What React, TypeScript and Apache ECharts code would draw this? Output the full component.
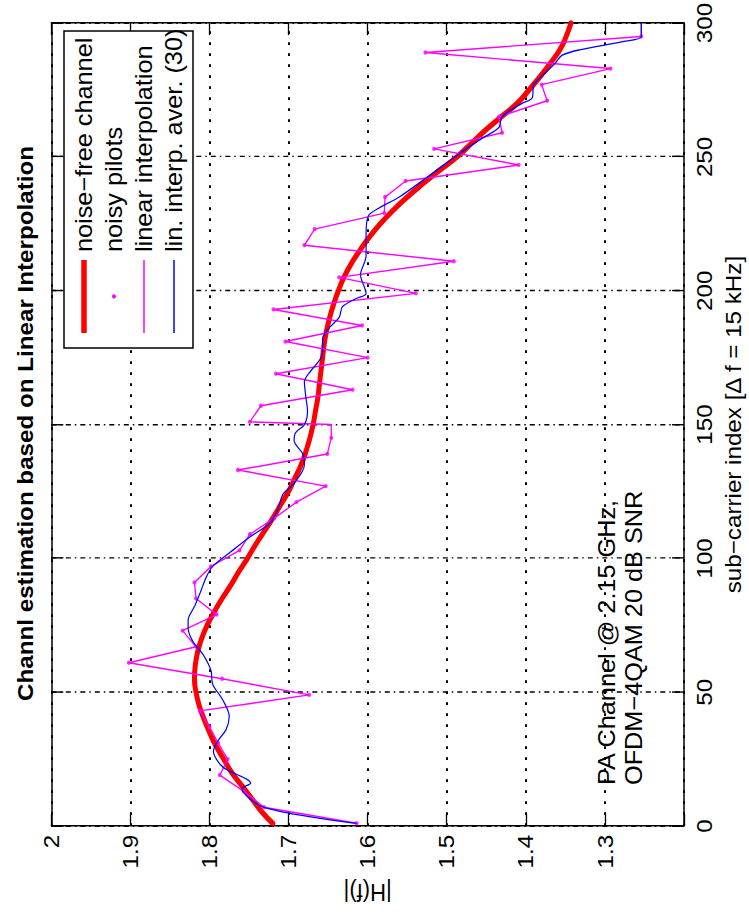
import React, { useEffect, useRef } from "react";
import * as echarts from "echarts";

// ---------------- data ----------------
const xTicks = [0, 50, 100, 150, 200, 250, 300];
const yTicks = [1.3, 1.4, 1.5, 1.6, 1.7, 1.8, 1.9, 2];

// noise-free channel
const cleanIdx = [1, 5, 10, 15, 20, 25, 30, 35, 40, 45, 50, 55, 60, 65, 70, 75, 80, 85, 90, 95, 100, 105, 110, 115, 120, 125, 130, 135, 140, 145, 150,
  155, 160, 165, 170, 175, 180, 185, 190, 195, 200, 205, 210, 215, 220, 225, 230, 235, 240, 245, 250, 255, 260, 265, 270, 275, 280, 285, 290, 295, 300];
const cleanH = [1.72, 1.733, 1.746, 1.759, 1.772, 1.782, 1.792, 1.8, 1.807, 1.813, 1.817, 1.819, 1.818, 1.815, 1.81, 1.803, 1.794, 1.784, 1.773, 1.763, 1.752,
  1.742, 1.731, 1.72, 1.71, 1.7, 1.692, 1.684, 1.678, 1.673, 1.669, 1.666, 1.663, 1.661, 1.659, 1.657, 1.655, 1.652, 1.648, 1.643, 1.637,
  1.63, 1.621, 1.61, 1.598, 1.584, 1.568, 1.55, 1.53, 1.509, 1.487, 1.469, 1.451, 1.431, 1.411, 1.396, 1.382, 1.369, 1.357, 1.349, 1.343];

// noisy pilots
const pilotIdx = [1, 7, 13, 19, 25, 31, 37, 43, 49, 55, 61, 67, 73, 79, 85, 91, 97, 103, 109, 115, 121, 127, 133, 139, 145,
  151, 157, 163, 169, 175, 181, 187, 193, 199, 205, 211, 217, 223, 229, 235, 241, 247, 253, 259, 265, 271, 277, 283, 289, 295];
const pilotH = [1.614, 1.731, 1.757, 1.787, 1.777, 1.789, 1.8, 1.812, 1.674, 1.784, 1.902, 1.817, 1.834, 1.791, 1.817, 1.819, 1.798, 1.762, 1.749, 1.718, 1.69, 1.653, 1.764, 1.651, 1.646,
  1.749, 1.735, 1.619, 1.716, 1.6, 1.704, 1.607, 1.719, 1.539, 1.636, 1.491, 1.68, 1.667, 1.579, 1.578, 1.552, 1.409, 1.516, 1.43, 1.434, 1.373, 1.38, 1.293, 1.527, 1.254];

// hold points at the block ends of the linear interpolation
const holdIdx = [150, 300];
const holdH = [1.646, 1.254];

// lin. interp. aver. (30)
const avgIdx = [1, 7, 14, 16, 22, 28, 32, 36, 41, 47, 53, 58, 64, 69, 74, 77, 82, 87, 93, 97, 102, 108, 113, 118, 124, 128, 135, 139, 144, 147,
  150, 155, 160, 166, 170, 174, 177, 182, 186, 190, 194, 197, 199, 206, 213, 221, 228, 231, 235, 243, 251, 257, 261, 265, 270, 272, 277, 280, 285, 288, 290, 293, 295, 300];
const avgH = [1.614, 1.731, 1.759, 1.748, 1.783, 1.795, 1.789, 1.779, 1.775, 1.783, 1.796, 1.798, 1.808, 1.821, 1.827, 1.827, 1.819, 1.812, 1.804, 1.796,
  1.775, 1.749, 1.724, 1.714, 1.707, 1.693, 1.68, 1.682, 1.693, 1.691, 1.68, 1.676, 1.678, 1.68, 1.672, 1.661, 1.657, 1.657, 1.649, 1.636,
  1.632, 1.615, 1.602, 1.609, 1.602, 1.602, 1.599, 1.585, 1.56, 1.522, 1.485, 1.455, 1.434, 1.43, 1.405, 1.392, 1.39, 1.38, 1.363, 1.354, 1.332, 1.279, 1.254, 1.254];

const seriesNames = ["noise\u2212free channel", "noisy pilots", "linear interpolation", "lin. interp. aver. (30)"];
const titleText = "Channl estimation based on Linear Interpolation";
const xName = "sub\u2212carrier index [\u0394 f = 15 kHz]";
const yName = "|H(f)|";
const noteLines = ["PA Channel @ 2.15 GHz,", "OFDM\u22124QAM 20 dB SNR"];

// ---------------- layout ----------------
const S = 1.1; // stretch along reading direction
const SCREEN_W = 749;
const SCREEN_H = 917;
const CW = SCREEN_H / S;
const CH = SCREEN_W;
const GL = 91 / S;
const GR = CW - 896 / S;
const GT = 51.3;
const GB = CH - 688;
const FONT = "'Liberation Sans', Arial, Helvetica, sans-serif";

function pairs(a: number[], b: number[]) {
  return a.map((v, i) => [v, b[i]]);
}

function buildOption() {
  const interp = pairs(pilotIdx, pilotH).concat(pairs(holdIdx, holdH)).sort((p, q) => p[0] - q[0]);
  const axisLine = { show: true, onZero: false, lineStyle: { color: "#000", width: 1.5 } };
  const xTick = { show: true, inside: true, length: 12, lineStyle: { color: "#000", width: 1.3 } };
  const yTick = { show: true, inside: true, length: 11, lineStyle: { color: "#000", width: 1.3 } };
  const legendU0 = (917 - 348) / S;
  const legendU1 = (917 - 31) / S;
  const sampleU0 = (917 - 333) / S;
  const sampleU1 = (917 - 260) / S;
  const textU = (917 - 252) / S;
  const rows = [84, 114, 144, 174];
  const noteU = (917 - 785) / S;
  const txt = (text: string, x: number, y: number, size: number, align: string, extra: any = {}) => ({
    type: "text",
    x,
    y,
    z: 110,
    style: {
      text,
      fill: "#000",
      fontSize: size,
      fontFamily: FONT,
      textAlign: align,
      textVerticalAlign: "middle",
      align,
      verticalAlign: "middle",
      ...extra,
    },
  });
  return {
    animation: false,
    backgroundColor: "#fff",
    textStyle: { fontFamily: FONT },
    grid: { left: GL, right: GR, top: GT, bottom: GB, containLabel: false },
    xAxis: [
      {
        type: "value",
        min: xTicks[0],
        max: xTicks[xTicks.length - 1],
        interval: 50,
        position: "bottom",
        name: xName,
        nameLocation: "middle",
        nameGap: 38,
        nameTextStyle: { fontSize: 22, color: "#000", fontFamily: FONT },
        axisLine,
        axisTick: xTick,
        axisLabel: { fontSize: 22, color: "#000", margin: 9, fontFamily: FONT },
        splitLine: { show: true, lineStyle: { color: "#000", width: 1.3, type: [5, 4, 1.5, 4] } },
      },
      {
        type: "value",
        min: xTicks[0],
        max: xTicks[xTicks.length - 1],
        interval: 50,
        position: "top",
        axisLine,
        axisTick: xTick,
        axisLabel: { show: false },
        splitLine: { show: false },
      },
    ],
    yAxis: [
      {
        type: "value",
        min: 1.2,
        max: yTicks[yTicks.length - 1],
        interval: 0.1,
        position: "left",
        name: yName,
        nameLocation: "middle",
        nameRotate: 90,
        nameGap: 46,
        nameTextStyle: { fontSize: 22, color: "#000", fontFamily: FONT },
        axisLine,
        axisTick: yTick,
        axisLabel: {
          fontSize: 22,
          color: "#000",
          margin: 8,
          fontFamily: FONT,
          formatter: (v: number) => {
            const hit = yTicks.find((t) => Math.abs(t - v) < 1e-6);
            return hit === undefined ? "" : String(hit);
          },
        },
        splitLine: { show: true, lineStyle: { color: "#000", width: 2, type: [2.5, 7.5] } },
      },
      {
        type: "value",
        min: 1.2,
        max: yTicks[yTicks.length - 1],
        interval: 0.1,
        position: "right",
        axisLine,
        axisTick: yTick,
        axisLabel: { show: false },
        splitLine: { show: false },
      },
    ],
    series: [
      {
        name: seriesNames[0],
        type: "line",
        data: pairs(cleanIdx, cleanH),
        smooth: 0.5,
        showSymbol: false,
        symbol: "none",
        lineStyle: { color: "#ff0000", width: 5, cap: "round", join: "round" },
        z: 2,
      },
      {
        name: seriesNames[1],
        type: "scatter",
        data: pairs(pilotIdx, pilotH),
        symbol: "circle",
        symbolSize: 4,
        itemStyle: { color: "#ff00ff" },
        z: 3,
      },
      {
        name: seriesNames[2],
        type: "line",
        data: interp,
        showSymbol: false,
        symbol: "none",
        lineStyle: { color: "#ff00ff", width: 1.3 },
        z: 4,
      },
      {
        name: seriesNames[3],
        type: "line",
        data: pairs(avgIdx, avgH),
        smooth: 0.3,
        showSymbol: false,
        symbol: "none",
        lineStyle: { color: "#0000ff", width: 1.2 },
        z: 5,
      },
    ],
    graphic: [
      txt(titleText, (GL + CW - GR) / 2, 25, 22, "center", { fontWeight: "bold" }),
      txt(noteLines[0], noteU, 607, 23, "left"),
      txt(noteLines[1], noteU, 634, 23, "left"),
      {
        type: "rect",
        z: 100,
        shape: { x: legendU0, y: 64, width: legendU1 - legendU0, height: 129 },
        style: { fill: "#fff", stroke: "#000", lineWidth: 1.5 },
      },
      { type: "line", z: 105, shape: { x1: sampleU0, y1: rows[0], x2: sampleU1, y2: rows[0] }, style: { stroke: "#ff0000", lineWidth: 5.5 } },
      { type: "circle", z: 105, shape: { cx: (sampleU0 + sampleU1) / 2, cy: rows[1], r: 2 }, style: { fill: "#ff00ff" } },
      { type: "line", z: 105, shape: { x1: sampleU0, y1: rows[2], x2: sampleU1, y2: rows[2] }, style: { stroke: "#ff00ff", lineWidth: 1.5 } },
      { type: "line", z: 105, shape: { x1: sampleU0, y1: rows[3], x2: sampleU1, y2: rows[3] }, style: { stroke: "#0000ff", lineWidth: 1.5 } },
      txt(seriesNames[0], textU, rows[0], 23, "left"),
      txt(seriesNames[1], textU, rows[1], 23, "left"),
      txt(seriesNames[2], textU, rows[2], 23, "left"),
      txt(seriesNames[3], textU, rows[3], 23, "left"),
    ],
  };
}

export default function App() {
  const ref = useRef<HTMLDivElement>(null);
  useEffect(() => {
    if (!ref.current) return;
    const chart = echarts.init(ref.current, null, { renderer: "svg" });
    chart.setOption(buildOption() as any);
    return () => chart.dispose();
  }, []);
  return (
    <div
      style={{
        position: "fixed",
        left: 0,
        top: 0,
        width: SCREEN_W,
        height: SCREEN_H,
        overflow: "hidden",
        background: "#fff",
      }}
    >
      <div
        ref={ref}
        style={{
          position: "absolute",
          left: 0,
          top: 0,
          width: CW,
          height: CH,
          transformOrigin: "0 0",
          transform: `translate(0px, ${SCREEN_H}px) rotate(-90deg) scale(${S}, 1)`,
        }}
      />
    </div>
  );
}
